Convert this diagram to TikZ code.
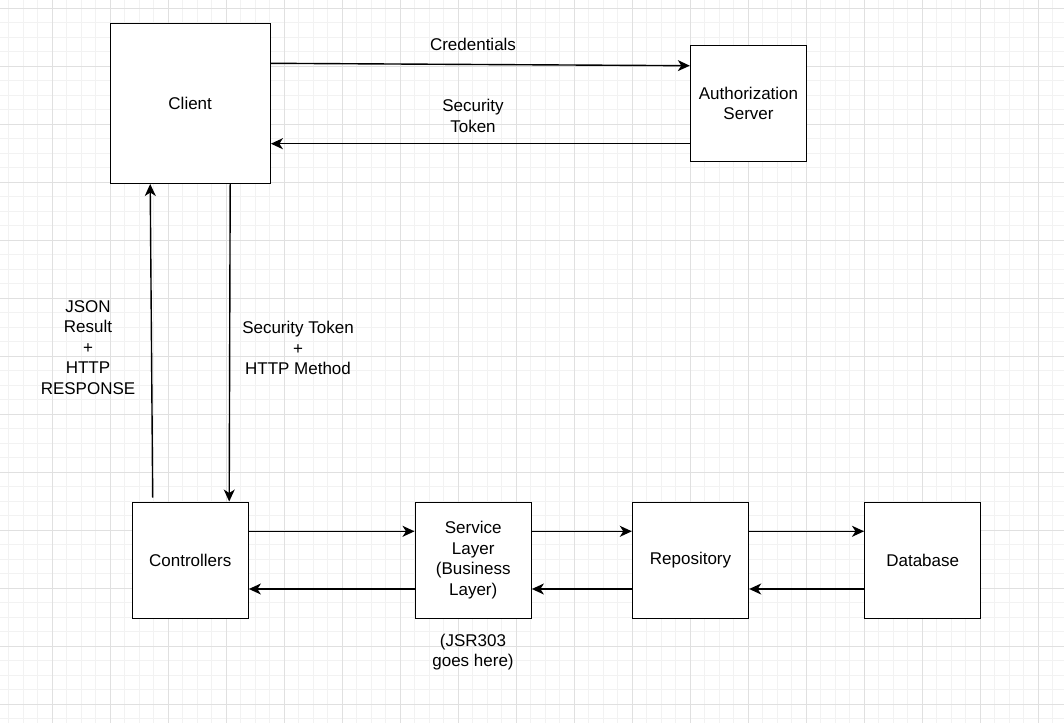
\documentclass[tikz,border=0pt]{standalone}
\usepackage{fontspec}
\setmainfont{Liberation Sans}
\usetikzlibrary{arrows.meta}
\begin{document}
\begin{tikzpicture}[x=1pt,y=-1pt,
  txt/.style={font=\fontsize{17}{20.6}\selectfont},
  box/.style={draw=black, line width=1.4pt, fill=white, minimum width=116pt, minimum height=116pt, inner sep=0pt, align=center, txt},
  conn/.style={draw=black, line width=1.4pt, -{Stealth[length=12pt,width=11pt,inset=3.5pt]}},
  lbl/.style={align=center, inner sep=0pt, txt},
  minorgrid/.style={draw={rgb,255:red,242;green,242;blue,242}, line width=0.8pt},
  majorgrid/.style={draw={rgb,255:red,224;green,224;blue,224}, line width=0.9pt}]
\useasboundingbox (0,0) rectangle (1064,723);
\fill[white] (0,0) rectangle (1064,723);
% grid
\foreach \i in {0,...,74} \draw[minorgrid] ({-5.7+14.5*\i},0) -- ({-5.7+14.5*\i},723);
\foreach \i in {0,...,50} \draw[minorgrid] (0,{-6.2+14.5*\i}) -- (1064,{-6.2+14.5*\i});
\foreach \i in {0,...,19} \draw[majorgrid] ({-5.7+58*\i},0) -- ({-5.7+58*\i},723);
\foreach \i in {0,...,13} \draw[majorgrid] (0,{8.3+58*\i}) -- (1064,{8.3+58*\i});
% nodes
\node[box, minimum width=160pt, minimum height=160pt] (client) at (190.2,103.3) {Client};
\node[box] (auth) at (748.5,103.3) {Authorization\\Server};
\node[box] (ctrl) at (190.2,560.2) {Controllers};
\node[box] (svc) at (473.2,560.2) {Service\\Layer\\(Business\\Layer)};
\node[box] (repo) at (690.5,560.2) {Repository};
\node[box] (db) at (922.7,560.2) {Database};
% connectors
\draw[conn] ([yshift=40pt]client.east) -- ([yshift=37.6pt]auth.west);
\draw[conn] ([yshift=-40.4pt]auth.west) -- ([yshift=-40.4pt]client.east);
\draw[conn] ([xshift=-37.5pt,yshift=4pt]ctrl.north) -- ([xshift=-40pt]client.south);
\draw[conn] ([xshift=40pt]client.south) -- ([xshift=39pt]ctrl.north);
\draw[conn] ([yshift=28.9pt]ctrl.east) -- ([yshift=28.9pt]svc.west);
\draw[conn] ([yshift=-28.8pt]svc.west) -- ([yshift=-28.8pt]ctrl.east);
\draw[conn] ([yshift=28.9pt]svc.east) -- ([yshift=28.9pt]repo.west);
\draw[conn] ([yshift=-28.8pt]repo.west) -- ([yshift=-28.8pt]svc.east);
\draw[conn] ([yshift=28.9pt]repo.east) -- ([yshift=28.9pt]db.west);
\draw[conn] ([yshift=-28.8pt]db.west) -- ([yshift=-28.8pt]repo.east);
% labels
\node[lbl] (lcred) at (473,44) {Credentials};
\node[lbl] (ltok) at (473,116) {Security\\Token};
\node[lbl] (ljson) at (88,347.5) {JSON\\Result\\+\\HTTP\\RESPONSE};
\node[lbl] (lmeth) at (298,348) {Security Token\\+\\HTTP Method};
\node[lbl] (ljsr) at (473,652) {(JSR303\\goes here)};
\end{tikzpicture}
\end{document}
